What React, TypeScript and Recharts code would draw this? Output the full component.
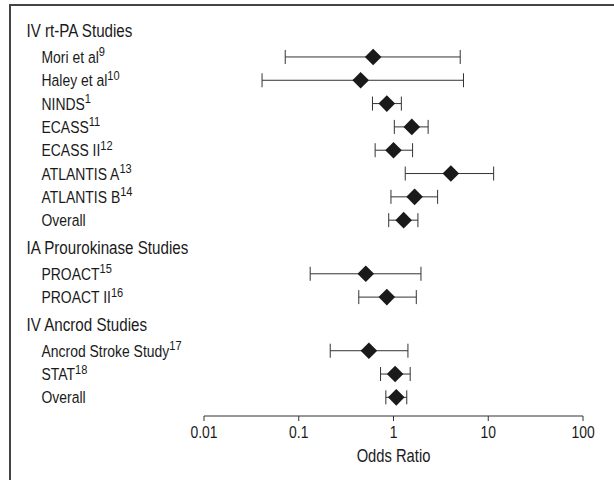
import { ScatterChart, Scatter, XAxis, YAxis, ErrorBar } from "recharts"

const rowLabels = [
  "IV rt-PA Studies",
  "Mori et al",
  "Haley et al",
  "NINDS",
  "ECASS",
  "ECASS II",
  "ATLANTIS A",
  "ATLANTIS B",
  "Overall",
  "IA Prourokinase Studies",
  "PROACT",
  "PROACT II",
  "IV Ancrod Studies",
  "Ancrod Stroke Study",
  "STAT",
  "Overall",
]
const rowRefs = ["", "9", "10", "1", "11", "12", "13", "14", "", "", "15", "16", "", "17", "18", ""]
const rowIsGroup = [true, false, false, false, false, false, false, false, false, true, false, false, true, false, false, false]

// odds ratio and 95% CI
const oddsRatios = [null, 0.61, 0.45, 0.85, 1.56, 1.0, 4.03, 1.67, 1.28, null, 0.51, 0.85, null, 0.55, 1.04, 1.07]
const ciLower = [null, 0.072, 0.041, 0.6, 1.02, 0.64, 1.33, 0.94, 0.89, null, 0.132, 0.43, null, 0.215, 0.73, 0.83]
const ciUpper = [null, 5.06, 5.48, 1.21, 2.32, 1.59, 11.4, 2.92, 1.81, null, 1.95, 1.74, null, 1.42, 1.5, 1.38]

const xTicks = [0.01, 0.1, 1, 10, 100]

// no Arial Narrow here, so squeeze Liberation Sans (same metrics as Arial) horizontally
const FONT = "'Liberation Sans', Arial, sans-serif"
const SQUEEZE = 0.82
const TEXT = "#1a1a1a"

// row positions: a little extra room after a group header and before the next group
const rowPos: number[] = []
let acc = 0
rowLabels.forEach((_, i) => {
  if (i > 0) {
    if (rowIsGroup[i - 1]) acc += 1.1
    else if (rowIsGroup[i]) acc += 1.2
    else acc += 1
  }
  rowPos.push(acc)
})

const studies = rowLabels
  .map((name, i) => ({ i, name }))
  .filter(({ i }) => oddsRatios[i] != null)
  .map(({ i, name }) => ({
    name,
    x: oddsRatios[i] as number,
    y: rowPos[i],
    err: [(oddsRatios[i] as number) - (ciLower[i] as number), (ciUpper[i] as number) - (oddsRatios[i] as number)],
  }))

const NarrowText = ({ x, y, size, anchor = "start", children }: any) => (
  <text
    transform={`translate(${x},${y}) scale(${SQUEEZE},1)`}
    fontSize={size}
    fontFamily={FONT}
    fill={TEXT}
    textAnchor={anchor}
  >
    {children}
  </text>
)

const Diamond = (props: any) => {
  const { cx, cy } = props
  const r = 8.3
  return <path d={`M${cx},${cy - r}L${cx + r},${cy}L${cx},${cy + r}L${cx - r},${cy}Z`} fill="#1a1a1a" />
}

const RowLabel = (props: any) => {
  const { y, payload } = props
  const i = rowPos.findIndex((p) => Math.abs(p - payload.value) < 1e-6)
  if (i < 0) return null
  const group = rowIsGroup[i]
  return (
    <NarrowText x={group ? 26.5 : 41.5} y={y + 6} size={group ? 18.5 : 17}>
      {rowLabels[i]}
      {rowRefs[i] && (
        <tspan fontSize={13.5} dy={-6.5}>
          {rowRefs[i]}
        </tspan>
      )}
    </NarrowText>
  )
}

const OddsTick = (props: any) => {
  const { x, y, payload } = props
  return (
    <NarrowText x={x} y={y + 12} size={17} anchor="middle">
      {String(payload.value)}
    </NarrowText>
  )
}

const AxisTitle = (props: any) => {
  const vb = props.viewBox || {}
  return (
    <NarrowText x={vb.x + vb.width / 2} y={vb.y + vb.height - 18} size={18} anchor="middle">
      Odds Ratio
    </NarrowText>
  )
}

export default function App() {
  return (
    <div style={{ position: "relative", width: 614, height: 480, background: "#fff", overflow: "hidden" }}>
      <style>{"body{margin:0}"}</style>
      {/* frame: only top and left edges show */}
      <div
        style={{
          position: "absolute",
          left: 9,
          top: 4,
          width: 620,
          height: 490,
          borderTop: "2px solid #444",
          borderLeft: "2px solid #444",
        }}
      />
      <ScatterChart width={614} height={480} margin={{ top: 8, right: 31, bottom: 0, left: 0 }}>
        <XAxis
          type="number"
          dataKey="x"
          scale="log"
          domain={[0.01, 100]}
          ticks={xTicks}
          interval={0}
          allowDataOverflow
          height={64}
          axisLine={{ stroke: "#333" }}
          tickLine={{ stroke: "#333" }}
          tickSize={5}
          tickMargin={5}
          tick={<OddsTick />}
          label={<AxisTitle />}
        />
        <YAxis
          type="number"
          dataKey="y"
          reversed
          domain={[-1, 16.5]}
          ticks={rowPos}
          interval={0}
          width={204}
          axisLine={false}
          tickLine={false}
          tick={<RowLabel />}
        />
        <Scatter data={studies} shape={<Diamond />} isAnimationActive={false}>
          <ErrorBar dataKey="err" direction="x" width={7} stroke="#333" strokeWidth={1} />
        </Scatter>
      </ScatterChart>
    </div>
  )
}
